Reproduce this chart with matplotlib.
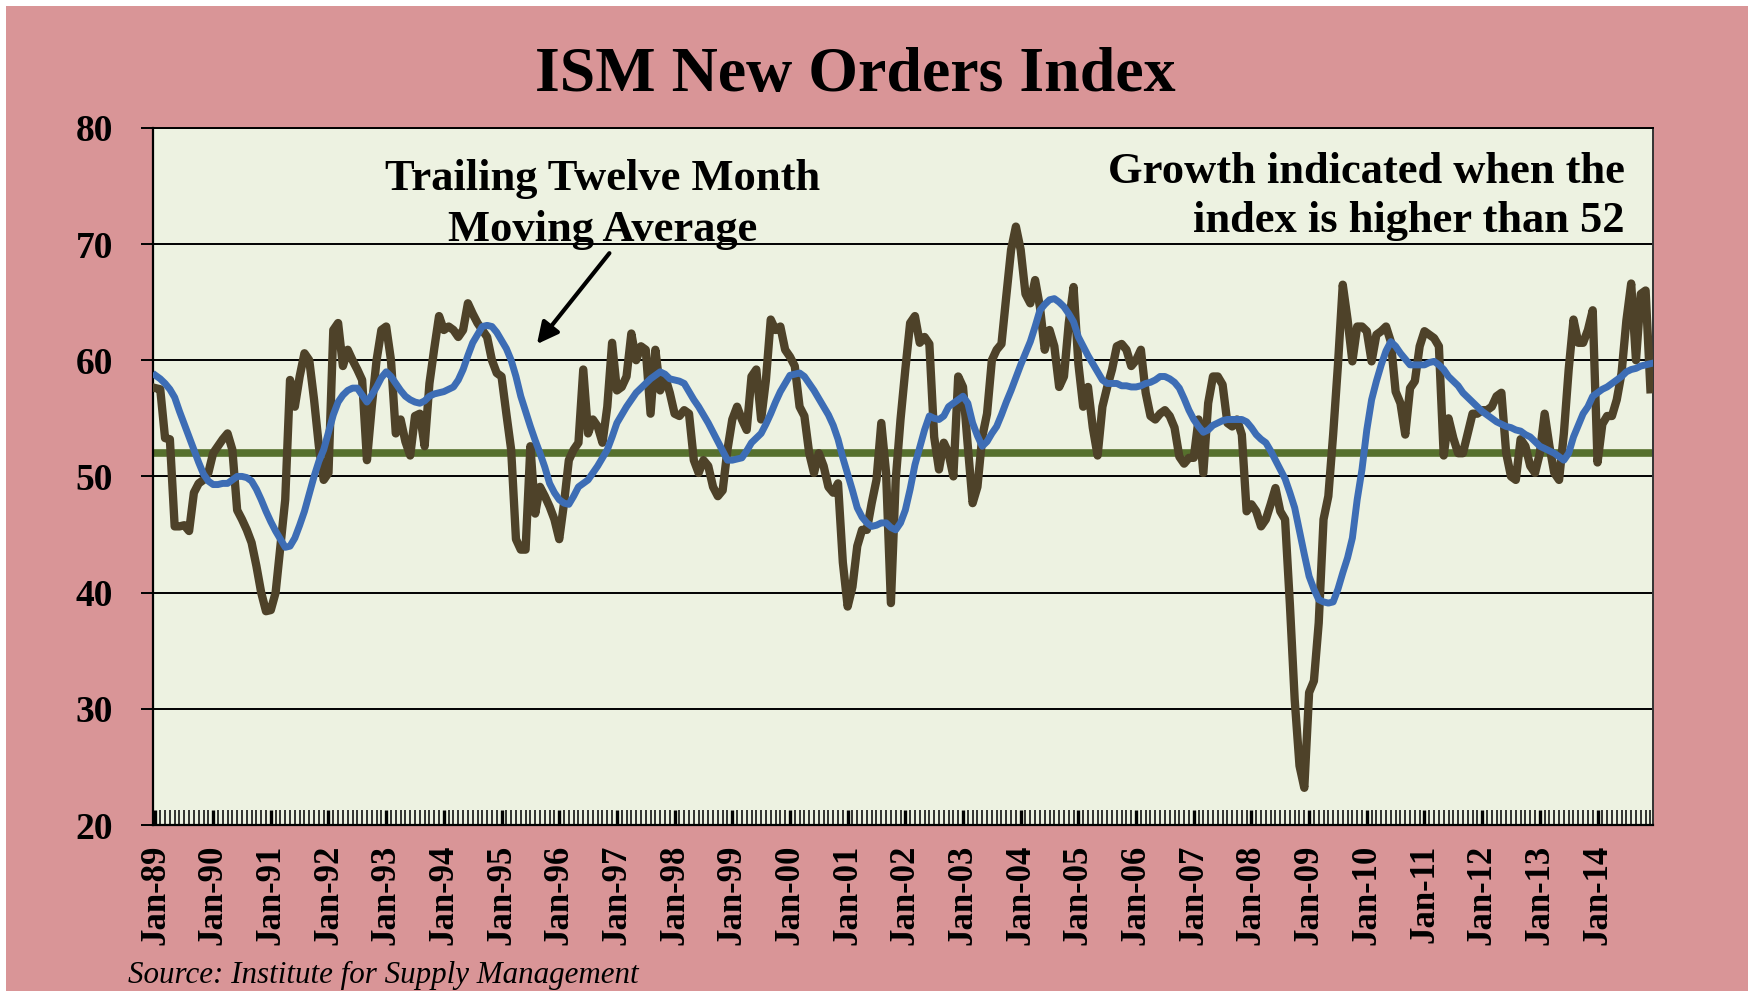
import matplotlib
matplotlib.use("Agg")
import matplotlib.pyplot as plt
from matplotlib.patches import Rectangle
import numpy as np

# ====== DATA (monthly Jan-89 .. Dec-14) ======
tick_labels = ["Jan-89", "Jan-90", "Jan-91", "Jan-92", "Jan-93", "Jan-94", "Jan-95",
               "Jan-96", "Jan-97", "Jan-98", "Jan-99", "Jan-00", "Jan-01", "Jan-02",
               "Jan-03", "Jan-04", "Jan-05", "Jan-06", "Jan-07", "Jan-08", "Jan-09",
               "Jan-10", "Jan-11", "Jan-12", "Jan-13", "Jan-14"]

new_orders = [
    57.6, 57.5, 53.3, 53.2, 45.7, 45.7, 45.8, 45.3, 48.6, 49.4, 49.7, 50.3,  # 1989
    52.0, 52.6, 53.2, 53.7, 52.3, 47.1, 46.3, 45.4, 44.3, 42.3, 40.0, 38.4,  # 1990
    38.5, 40.0, 44.0, 48.0, 58.3, 56.0, 58.6, 60.6, 60.0, 56.6, 52.6, 49.7,  # 1991
    50.3, 62.6, 63.2, 59.5, 60.9, 60.0, 59.2, 58.3, 51.4, 56.0, 60.0, 62.6,  # 1992
    62.9, 60.0, 53.7, 54.9, 53.0, 51.8, 55.2, 55.4, 52.6, 58.0, 61.0, 63.8,  # 1993
    62.6, 62.9, 62.6, 62.0, 62.6, 64.9, 64.0, 63.2, 62.6, 62.0, 60.0, 58.9,  # 1994
    58.6, 55.4, 52.3, 44.6, 43.7, 43.7, 52.6, 46.8, 49.1, 48.3, 47.4, 46.3,  # 1995
    44.6, 47.7, 51.4, 52.3, 52.9, 59.2, 53.7, 54.9, 54.3, 52.9, 56.0, 61.5,  # 1996
    57.4, 57.7, 58.6, 62.3, 60.0, 61.2, 60.9, 55.4, 60.9, 57.4, 58.6, 57.2,  # 1997
    55.4, 55.2, 55.7, 55.4, 51.4, 50.3, 51.4, 50.9, 49.1, 48.3, 48.8, 52.3,  # 1998
    54.9, 56.0, 54.9, 54.0, 58.6, 59.2, 54.9, 58.3, 63.5, 62.6, 62.9, 60.9,  # 1999
    60.3, 59.5, 56.0, 55.2, 52.0, 50.3, 52.0, 50.9, 49.1, 48.6, 49.4, 42.6,  # 2000
    38.8, 40.5, 44.0, 45.4, 45.4, 47.7, 49.7, 54.6, 50.3, 39.1, 49.7, 54.9,  # 2001
    59.2, 63.2, 63.8, 61.5, 62.0, 61.4, 53.4, 50.6, 52.9, 52.0, 50.0, 58.6,  # 2002
    57.7, 52.6, 47.7, 49.1, 53.4, 55.4, 60.0, 60.9, 61.4, 65.5, 69.5, 71.5,  # 2003
    69.5, 65.7, 64.9, 66.9, 64.6, 60.9, 62.6, 61.2, 57.7, 58.6, 63.2, 66.3,  # 2004
    59.7, 56.0, 57.7, 54.2, 51.8, 56.0, 57.7, 59.2, 61.2, 61.4, 60.9, 59.5,  # 2005
    60.0, 60.9, 57.2, 55.2, 54.9, 55.4, 55.7, 55.2, 54.2, 51.7, 51.1, 51.6,  # 2006
    51.6, 54.9, 50.3, 56.3, 58.6, 58.6, 57.9, 54.6, 54.3, 54.9, 53.6, 47.0,  # 2007
    47.6, 47.0, 45.7, 46.3, 47.6, 49.0, 47.0, 46.3, 39.0, 30.8, 25.1, 23.2,  # 2008
    31.4, 32.4, 37.4, 46.3, 48.3, 53.6, 59.6, 66.5, 63.5, 59.9, 62.9, 62.9,  # 2009
    62.5, 59.9, 62.2, 62.5, 62.9, 61.6, 57.3, 56.3, 53.6, 57.6, 58.2, 61.2,  # 2010
    62.5, 62.2, 61.9, 61.2, 51.8, 55.0, 53.3, 52.0, 52.0, 53.7, 55.4, 55.4,  # 2011
    55.7, 55.7, 56.0, 56.9, 57.2, 52.0, 50.0, 49.7, 53.2, 52.6, 50.9, 50.3,  # 2012
    52.0, 55.4, 52.6, 50.3, 49.7, 53.7, 59.2, 63.5, 61.5, 61.5, 62.6, 64.3,  # 2013
    51.2, 54.5, 55.2, 55.2, 56.6, 58.9, 63.4, 66.6, 60.0, 65.7, 66.0, 57.5,  # 2014
]

moving_avg = [
    58.7, 58.4, 58.0, 57.5, 56.8, 55.6, 54.5, 53.4, 52.3, 51.2, 50.2, 49.6,  # 1989
    49.3, 49.3, 49.4, 49.4, 49.7, 50.0, 50.0, 49.9, 49.6, 48.9, 48.0, 47.0,  # 1990
    46.1, 45.3, 44.6, 43.9, 44.0, 44.7, 45.8, 47.0, 48.5, 50.0, 51.3, 52.3,  # 1991
    53.8, 55.3, 56.4, 57.0, 57.4, 57.6, 57.6, 57.0, 56.4, 57.0, 57.7, 58.5,  # 1992
    59.0, 58.6, 58.0, 57.4, 56.9, 56.6, 56.4, 56.3, 56.5, 56.9, 57.1, 57.2,  # 1993
    57.3, 57.5, 57.7, 58.3, 59.2, 60.4, 61.5, 62.2, 62.9, 63.0, 62.9, 62.4,  # 1994
    61.7, 61.0, 60.0, 58.6, 56.9, 55.6, 54.3, 53.1, 52.0, 50.8, 49.4, 48.6,  # 1995
    48.0, 47.7, 47.6, 48.3, 49.1, 49.4, 49.7, 50.3, 50.9, 51.6, 52.3, 53.4,  # 1996
    54.6, 55.3, 56.0, 56.6, 57.2, 57.6, 58.0, 58.4, 58.7, 59.0, 58.8, 58.4,  # 1997
    58.3, 58.2, 58.0, 57.3, 56.6, 56.0, 55.3, 54.6, 53.8, 53.0, 52.2, 51.4,  # 1998
    51.4, 51.5, 51.6, 52.2, 52.9, 53.3, 53.7, 54.5, 55.4, 56.4, 57.3, 58.0,  # 1999
    58.7, 58.8, 58.9, 58.6, 58.0, 57.4, 56.7, 56.0, 55.3, 54.4, 53.2, 51.6,  # 2000
    50.2, 48.8, 47.3, 46.5, 46.0, 45.7, 45.8, 46.0, 46.0, 45.6, 45.4, 46.0,  # 2001
    47.1, 48.9, 51.0, 52.5, 54.0, 55.2, 55.0, 54.9, 55.2, 56.0, 56.3, 56.6,  # 2002
    56.9, 56.3, 54.6, 53.5, 52.6, 53.0, 53.7, 54.3, 55.3, 56.4, 57.4, 58.5,  # 2003
    59.6, 60.6, 61.6, 62.9, 64.3, 64.8, 65.2, 65.3, 65.0, 64.6, 64.0, 63.3,  # 2004
    62.0, 61.2, 60.4, 59.7, 59.0, 58.3, 58.0, 58.0, 58.0, 57.8, 57.8, 57.7,  # 2005
    57.7, 57.8, 58.0, 58.1, 58.3, 58.6, 58.6, 58.4, 58.1, 57.6, 56.7, 55.7,  # 2006
    54.9, 54.3, 53.8, 54.0, 54.4, 54.6, 54.8, 54.9, 54.9, 54.9, 54.9, 54.7,  # 2007
    54.2, 53.6, 53.2, 52.9, 52.2, 51.4, 50.6, 49.8, 48.6, 47.3, 45.3, 43.3,  # 2008
    41.4, 40.3, 39.4, 39.2, 39.1, 39.2, 40.3, 41.7, 43.0, 44.7, 48.0, 50.6,  # 2009
    54.0, 56.6, 58.2, 59.6, 60.8, 61.6, 61.2, 60.6, 60.1, 59.6, 59.6, 59.6,  # 2010
    59.6, 59.8, 59.9, 59.6, 59.2, 58.6, 58.2, 57.8, 57.2, 56.8, 56.4, 56.0,  # 2011
    55.6, 55.3, 55.0, 54.7, 54.5, 54.3, 54.2, 54.0, 53.9, 53.6, 53.4, 53.0,  # 2012
    52.6, 52.4, 52.2, 52.0, 51.7, 51.4, 52.0, 53.4, 54.4, 55.4, 56.0, 56.9,  # 2013
    57.2, 57.5, 57.7, 58.0, 58.3, 58.6, 59.0, 59.2, 59.3, 59.5, 59.6, 59.7,  # 2014
]

GROWTH_LEVEL = 52

# ====== STYLE ======
PINK = "#D99597"
PLOT_BG = "#EDF2E1"
DARK = "#4E4229"
BLUE = "#3D6DB5"
GREEN = "#56702D"
SERIF = "Liberation Serif"

fig = plt.figure(figsize=(17.49, 9.91), dpi=100, facecolor="white")
fig.patches.append(Rectangle((6 / 1749, 0), 1, 1 - 6 / 991, transform=fig.transFigure,
                             facecolor=PINK, edgecolor="none", zorder=-10))

ax = fig.add_axes([0.0875, 0.1675, 0.8575, 0.7035])
ax.set_facecolor(PLOT_BG)

x = np.arange(len(new_orders))
ax.axhline(GROWTH_LEVEL, color=GREEN, lw=5.5, zorder=2)
ax.plot(x, new_orders, color=DARK, lw=6, solid_joinstyle="round", zorder=3)
ax.plot(x, moving_avg, color=BLUE, lw=5, solid_joinstyle="round", zorder=4)

ax.set_xlim(-0.5, len(new_orders) - 0.5)
ax.set_ylim(20, 80)

# y axis
ax.set_yticks(range(20, 81, 10))
ax.yaxis.grid(True, color="black", lw=1.4)
ax.set_axisbelow(True)
ax.tick_params(axis="y", direction="out", length=9, width=1.4, pad=20)
for lab in ax.get_yticklabels():
    lab.set_fontfamily(SERIF)
    lab.set_fontweight("bold")
    lab.set_fontsize(27)

# x axis: a label every January, small tick every month
ax.set_xticks(np.arange(0, len(new_orders), 12))
ax.set_xticklabels(tick_labels, rotation=90, fontfamily=SERIF, fontweight="bold", fontsize=25)
ax.set_xticks(np.arange(len(new_orders)), minor=True)
ax.tick_params(axis="x", which="major", direction="in", length=11, width=2.4, pad=14)
ax.tick_params(axis="x", which="minor", direction="in", length=11, width=1.1)

for side in ["left", "bottom"]:
    ax.spines[side].set_linewidth(1.6)
ax.spines["top"].set_linewidth(1.4)
ax.spines["right"].set_linewidth(1.4)
ax.spines["right"].set_color("#333333")

# ====== TEXT ======
fig.text(0.489, 0.923, "ISM New Orders Index", ha="center", va="center",
         fontfamily=SERIF, fontweight="bold", fontsize=46)

ax.text(93, 73.4, "Trailing Twelve Month\nMoving Average", ha="center", va="center",
        fontfamily=SERIF, fontweight="bold", fontsize=32, linespacing=1.38)
ax.annotate("", xy=(79, 61.2), xytext=(94.8, 69.4),
            arrowprops=dict(arrowstyle="-|>", color="black", lw=3, mutation_scale=32))

ax.text(305.6, 74.1, "Growth indicated when the\nindex is higher than 52", ha="right", va="center",
        fontfamily=SERIF, fontweight="bold", fontsize=32, linespacing=1.3)

fig.text(0.073, 0.016, "Source: Institute for Supply Management", ha="left", va="center",
         fontfamily=SERIF, fontstyle="italic", fontsize=22.3)

fig.savefig("out.png", dpi=100, facecolor=fig.get_facecolor())
